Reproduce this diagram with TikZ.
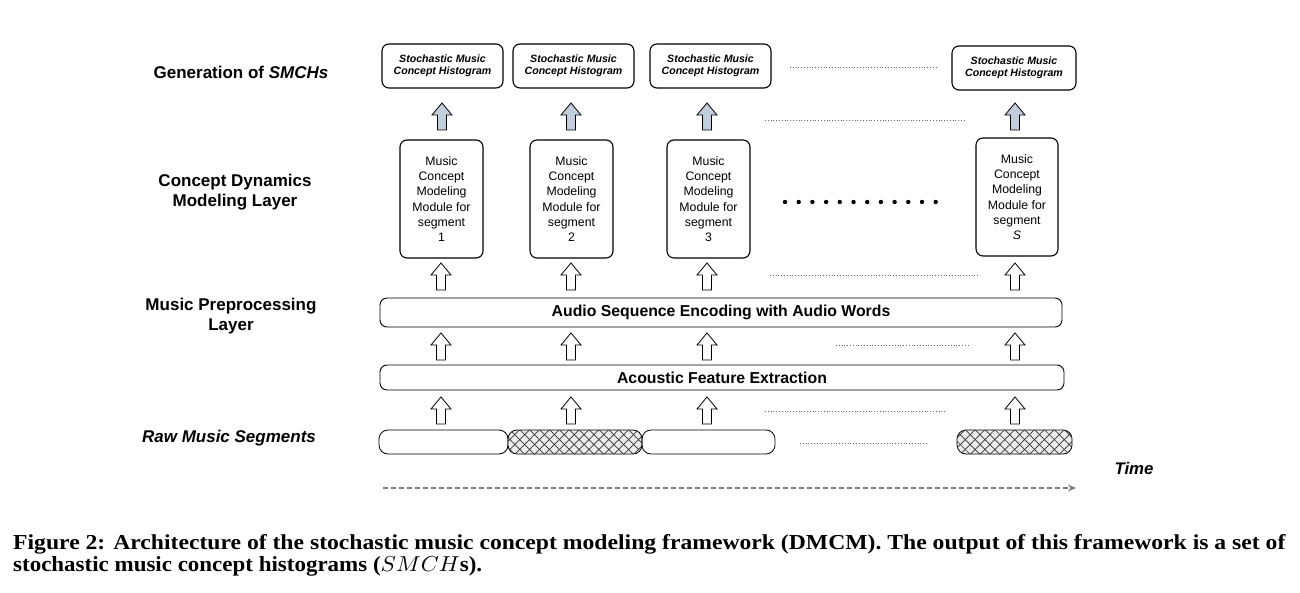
\documentclass[tikz,border=0pt]{standalone}
\usepackage{fontspec}
\setmainfont{Liberation Sans}
\newfontfamily\capfont{Liberation Serif}
\usetikzlibrary{patterns.meta,arrows.meta}
\definecolor{arrblue}{HTML}{C3CEDD}
\newcommand\UpArr[3]{%
  \filldraw[blockarr,fill=#3] (#1-4.5,#2+27) -- (#1-4.5,#2+12) -- (#1-10,#2+12) -- (#1,#2)
    -- (#1+10,#2+12) -- (#1+4.5,#2+12) -- (#1+4.5,#2+27) -- cycle;}
\tikzset{
  box/.style={draw, line width=1.1pt, rounded corners=7pt, inner sep=0pt, align=center},
  histbox/.style={box, minimum height=44pt, font=\fontsize{10.6}{12.5}\selectfont\bfseries\itshape},
  modbox/.style={box, minimum width=83pt, minimum height=118pt, font=\fontsize{12.3}{15.3}\selectfont},
  bar/.style={box, line width=0.9pt, font=\fontsize{15.8}{17}\selectfont\bfseries},
  seg/.style={draw, line width=0.8pt, rounded corners=9pt, minimum height=24pt, inner sep=0pt},
  hatch/.style={seg, fill=gray!15, postaction={pattern={Lines[angle=45,distance=7pt,line width=0.7pt]}, pattern color=black!80},
    postaction={pattern={Lines[angle=-45,distance=7pt,line width=0.7pt]}, pattern color=black!80}},
  blockarr/.style={line width=0.8pt, line join=miter},
  dots/.style={draw=gray!80!black, line width=0.7pt, dash pattern=on 0.8pt off 2pt},
  lab/.style={align=center, font=\fontsize{17}{20}\selectfont\bfseries},
}
\begin{document}
\begin{tikzpicture}[x=1pt,y=-1pt]
\useasboundingbox (0,0) rectangle (1300,593);
% left labels
\node[lab] (l1) at (241,72) {Generation of \textit{SMCHs}};
\node[lab] (l2) at (235,192) {Concept Dynamics\\Modeling Layer};
\node[lab] (l3) at (231,316) {Music Preprocessing\\Layer};
\node[lab] (l4) at (229,438) {\textit{Raw Music Segments}};
% histogram boxes
\node[histbox, minimum width=121pt] (h1) at (442.5,66) {Stochastic Music\\Concept Histogram};
\node[histbox, minimum width=121pt] (h2) at (573.5,66) {Stochastic Music\\Concept Histogram};
\node[histbox, minimum width=121pt] (h3) at (710.5,66) {Stochastic Music\\Concept Histogram};
\node[histbox, minimum width=124pt] (h4) at (1014,68) {Stochastic Music\\Concept Histogram};
\coordinate (d1a) at (790,67); \coordinate (d1b) at (937,67);
\draw[dots] (d1a) -- (d1b);
% top arrows
\UpArr{442}{103}{arrblue}\UpArr{571}{103}{arrblue}\UpArr{707}{103}{arrblue}\UpArr{1015}{103}{arrblue}
\coordinate (d2a) at (765,120); \coordinate (d2b) at (965,120);
\draw[dots] (d2a) -- (d2b);
% module boxes
\node[modbox] (m1) at (441.5,199) {Music\\Concept\\Modeling\\Module for\\segment\\1};
\node[modbox] (m2) at (571.5,199) {Music\\Concept\\Modeling\\Module for\\segment\\2};
\node[modbox] (m3) at (708.5,199) {Music\\Concept\\Modeling\\Module for\\segment\\3};
\node[modbox, minimum width=82pt] (m4) at (1017,197) {Music\\Concept\\Modeling\\Module for\\segment\\\textit{S}};
\foreach \i in {0,...,11} \fill (785+\i*13.7,202) circle (2.2pt);
% arrows to modules
\UpArr{441}{263}{white}\UpArr{571}{263}{white}\UpArr{707}{263}{white}\UpArr{1015}{263}{white}
\coordinate (d3a) at (770,275); \coordinate (d3b) at (980,275);
\draw[dots] (d3a) -- (d3b);
% bars
\node[bar, minimum width=682pt, minimum height=29pt] (enc) at (721,312.5) {Audio Sequence Encoding with Audio Words};
\UpArr{441}{333}{white}\UpArr{571}{333}{white}\UpArr{707}{333}{white}\UpArr{1015}{333}{white}
\coordinate (d4a) at (836,345); \coordinate (d4b) at (968,345);
\draw[dots] (d4a) -- (d4b);
\node[bar, minimum width=684pt, minimum height=25pt] (ext) at (722,377.5) {Acoustic Feature Extraction};
\UpArr{441}{397}{white}\UpArr{571}{397}{white}\UpArr{707}{397}{white}\UpArr{1015}{397}{white}
\coordinate (d5a) at (765,411); \coordinate (d5b) at (945,411);
\draw[dots] (d5a) -- (d5b);
% segments
\node[seg, minimum width=129pt] (s1) at (443.5,442) {};
\node[hatch, minimum width=134pt] (s2) at (575,442) {};
\node[seg, minimum width=133pt] (s3) at (708.5,442) {};
\node[hatch, minimum width=115pt] (s4) at (1014.5,442) {};
\coordinate (d6a) at (800,443); \coordinate (d6b) at (928,443);
\draw[dots] (d6a) -- (d6b);
% time
\node[font=\fontsize{16.8}{18}\selectfont\bfseries\itshape] (time) at (1134,468) {Time};
\coordinate (t0) at (383,488); \coordinate (t1) at (1076,488);
\draw[gray, line width=1.6pt, dash pattern=on 5pt off 3pt, -{Stealth[length=8pt,width=7pt]}] (t0) -- (t1);
% caption
\node[anchor=base west, inner sep=0pt] (cap1) at (13,549) {\resizebox{1272pt}{15pt}{\capfont\bfseries Figure 2: Architecture of the stochastic music concept modeling framework (DMCM). The output of this framework is a set of}};
\node[anchor=base west, inner sep=0pt] (cap2) at (13,571) {\resizebox{469pt}{15pt}{\capfont\bfseries stochastic music concept histograms ($SMCH$s).}};
\end{tikzpicture}
\end{document}
